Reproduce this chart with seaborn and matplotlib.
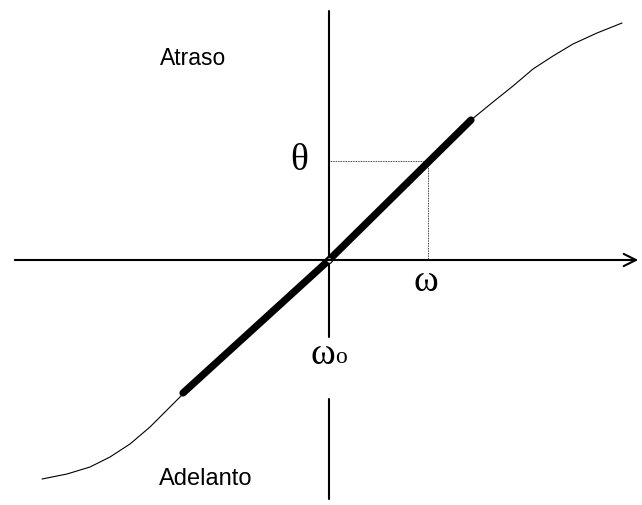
import matplotlib.pyplot as plt
import seaborn as sns
import numpy as np
import pandas as pd

# curve (pixels relative to the origin)
curve_x = [-287, -262, -239, -219, -199, -179, -159, -146, -100, -50, 0,
           50, 100, 142, 164, 184, 204, 224, 244, 268, 293]
curve_y = [-219, -214, -207, -197, -184, -167, -147, -134, -92, -46, 0,
           48, 97, 140, 158, 174, 191, 204, 216, 227, 237]

# thick linear part
lin_x = [-146, 0, 142]
lin_y = [-133, 0, 140]

# operating point
w_pt = 99
theta_pt = 99

sns.set_style("white")
plt.rcParams['font.family'] = ['Liberation Sans', 'DejaVu Sans']

fig = plt.figure(figsize=(6.42, 5.06), dpi=100)
ax = fig.add_axes([0, 0, 1, 1])

curve = pd.DataFrame({"x": curve_x, "y": curve_y})
lin = pd.DataFrame({"x": lin_x, "y": lin_y})

sns.lineplot(data=curve, x="x", y="y", color="black", lw=0.8, sort=False, ax=ax)
sns.lineplot(data=lin, x="x", y="y", color="black", lw=5.2, sort=False, ax=ax,
             solid_capstyle="round")

# guide lines to the operating point
ax.plot([0, w_pt], [theta_pt, theta_pt], color="black", lw=0.6, ls=(0, (1, 1)))
ax.plot([w_pt, w_pt], [0, theta_pt], color="black", lw=0.6, ls=(0, (1, 1)))

# axes
ax.annotate("", xy=(312, 0), xytext=(-317, 0),
            arrowprops=dict(arrowstyle="->", lw=1.5, mutation_scale=22, color="black"))
ax.plot([0, 0], [-77, 249], color="black", lw=1.5)
ax.plot([0, 0], [-139, -239], color="black", lw=1.5)
ax.plot([0], [0], marker="o", ms=4, mfc="white", mec="black", mew=0.8)

serif = ['Liberation Serif', 'DejaVu Serif']
ax.text(-136, 203, "Atraso", fontsize=16.5, ha="center", va="center", color="black")
ax.text(-123, -218, "Adelanto", fontsize=17, ha="center", va="center", color="black")
ax.text(-30, 100, "θ", fontsize=27, ha="center", va="center", family=serif, color="black")
ax.text(97, -21, "ω", fontsize=27, ha="center", va="center", family=serif, color="black")
ax.text(-6, -94, "ω", fontsize=27, ha="center", va="center", family=serif, color="black")
ax.text(12, -97, "o", fontsize=17, ha="center", va="center", family=serif, color="black")

ax.set_xlim(-329, 313)
ax.set_ylim(-245, 261)
ax.axis("off")

fig.savefig("out.png", dpi=100)
